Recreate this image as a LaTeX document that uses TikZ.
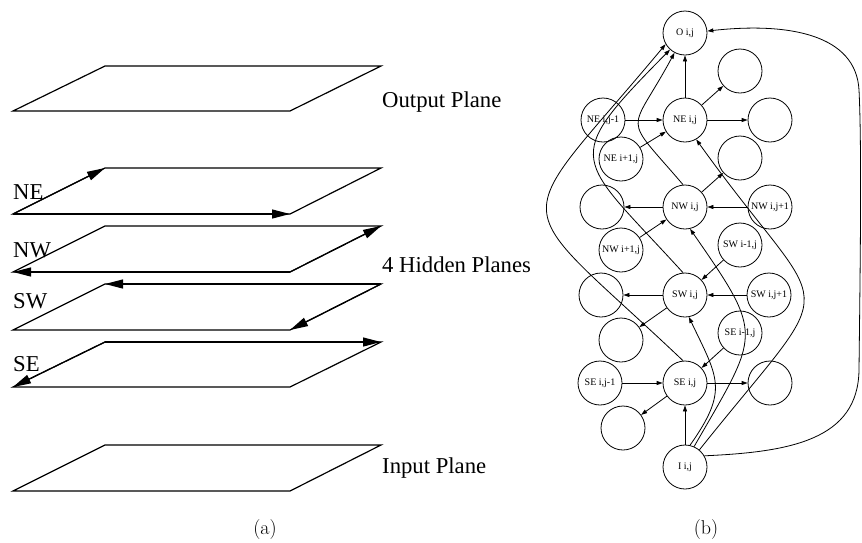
\documentclass[tikz,border=0pt]{standalone}
\usepackage{fontspec}
\newfontfamily\tms{Liberation Serif}
\usetikzlibrary{arrows.meta}
\begin{document}
\begin{tikzpicture}[x=1pt,y=-1pt,
  plane/.style={line width=1.2pt, line join=miter},
  bigtip/.style={line width=1.2pt,-{Triangle[length=18pt,width=9pt]}},
  lab/.style={font=\tms\fontsize{22.7}{27}\selectfont, inner sep=0pt, anchor=base west},
  captxt/.style={font=\fontsize{20}{24}\selectfont, inner sep=0pt, anchor=base},
  cnode/.style={circle, draw, line width=0.8pt, minimum size=44pt, inner sep=0pt, font=\tms\fontsize{10}{12}\selectfont},
  conn/.style={line width=0.8pt, -{Triangle[length=6pt,width=4pt]}}
]
\useasboundingbox (0,0) rectangle (862,542);

% ---------- (a) planes ----------
\foreach \n/\t/\b in {out/66/111, ne/168/214, nw/226/272, sw/284/330, se/342/387, in/445/491}{
  \coordinate (\n-bl) at (13,\b);
  \coordinate (\n-br) at (290,\b);
  \coordinate (\n-tr) at (381,\t);
  \coordinate (\n-tl) at (105,\t);
  \draw[plane] (\n-bl) -- (\n-br) -- (\n-tr) -- (\n-tl) -- cycle;
}
\draw[bigtip] (ne-bl) -- (ne-tl);
\draw[bigtip] (ne-bl) -- (ne-br);
\draw[bigtip] (nw-br) -- (nw-tr);
\draw[bigtip] (nw-br) -- (nw-bl);
\draw[bigtip] (sw-tr) -- (sw-tl);
\draw[bigtip] (sw-tr) -- (sw-br);
\draw[bigtip] (se-tl) -- (se-tr);
\draw[bigtip] (se-tl) -- (se-bl);

\node[lab] (lout) at (382,107) {Output Plane};
\node[lab] (lhid) at (382,272) {4 Hidden Planes};
\node[lab] (lin) at (382,473) {Input Plane};
\node[lab] (lne) at (13,199) {NE};
\node[lab] (lnw) at (13,257) {NW};
\node[lab] (lsw) at (13,308) {SW};
\node[lab] (lse) at (13,371) {SE};
\node[captxt] (capa) at (265,534) {(a)};
\node[captxt] (capb) at (706,534) {(b)};

% ---------- (b) graph ----------
\node[cnode] (O) at (685,33) {O i,j};
\node[cnode] (NE) at (685,120) {NE i,j};
\node[cnode] (NEa) at (603,120) {NE i,j-1};
\node[cnode] (NEb) at (621,159) {NE i+1,j};
\node[cnode] (E1) at (740,71) {};
\node[cnode] (E2) at (770,120) {};
\node[cnode] (E3) at (740,158) {};
\node[cnode] (NW) at (685,207) {NW i,j};
\node[cnode] (E4) at (602,207) {};
\node[cnode] (NWa) at (770,207) {NW i,j+1};
\node[cnode] (NWb) at (621,250) {NW i+1,j};
\node[cnode] (SWa) at (740,245) {SW i-1,j};
\node[cnode] (SW) at (685,295) {SW i,j};
\node[cnode] (E5) at (601,295) {};
\node[cnode] (SWb) at (769,295) {SW i,j+1};
\node[cnode] (E6) at (621,340) {};
\node[cnode] (SEa) at (740,333) {SE i-1,j};
\node[cnode] (SEb) at (600,383) {SE i,j-1};
\node[cnode] (SE) at (685,383) {SE i,j};
\node[cnode] (E7) at (770,383) {};
\node[cnode] (E8) at (623,428) {};
\node[cnode] (I) at (685,467) {I i,j};

\draw[conn] (NE) -- (O);
\draw[conn] (NEa) -- (NE);
\draw[conn] (NEb) -- (NE);
\draw[conn] (NE) -- (E1);
\draw[conn] (NE) -- (E2);
\draw[conn] (NW) -- (E3);
\draw[conn] (NW) -- (E4);
\draw[conn] (NWa) -- (NW);
\draw[conn] (NWb) -- (NW);
\draw[conn] (SW) -- (E5);
\draw[conn] (SWb) -- (SW);
\draw[conn] (SWa) -- (SW);
\draw[conn] (SW) -- (E6);
\draw[conn] (SEb) -- (SE);
\draw[conn] (SEa) -- (SE);
\draw[conn] (SE) -- (E7);
\draw[conn] (SE) -- (E8);
\draw[conn] (I) -- (SE);

% hidden -> output curves
\draw[conn] (SE.95) .. controls (503,190) and (506,236) .. (O.210);
\draw[conn] (SW.95) .. controls (576,155) and (558,163) .. (O.228);
\draw[conn] (NW.95) .. controls (621,112) and (629,137) .. (O.242);
% input -> hidden curves
\draw[conn] (I.77) .. controls (729,390) and (718,378) .. (SW.280);
\draw[conn] (I.66) .. controls (760,332) and (765,337) .. (NW.283);
\draw[conn] (I.50) .. controls (846,266) and (832,329) .. (NE.300);
% input -> output loop
\draw[conn] (I.30) .. controls (790,452) and (858,440) .. (859,370)
  .. controls (860,280) and (862,150) .. (859,90)
  .. controls (856,35) and (790,22) .. (O.5);
\end{tikzpicture}
\end{document}
